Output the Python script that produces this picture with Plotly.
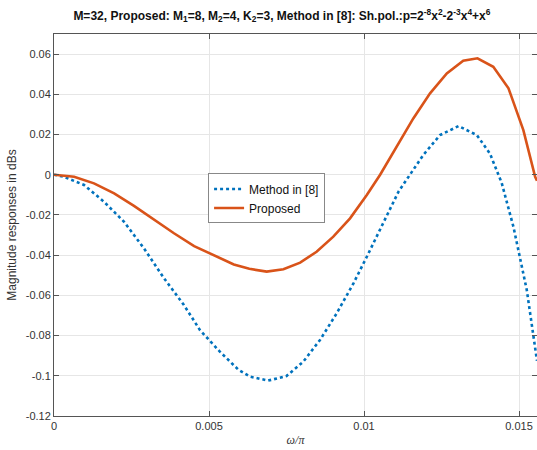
import plotly.graph_objects as go

# Data
x_prop = [0, 0.00065, 0.00129, 0.00194, 0.00258, 0.00323, 0.00387, 0.00452, 0.00516, 0.0058,
          0.0063, 0.00686, 0.0074, 0.00794, 0.00847, 0.00901, 0.00955, 0.01009, 0.01052,
          0.01105, 0.01159, 0.01213, 0.01267, 0.0132, 0.01366, 0.01417, 0.01466, 0.01514,
          0.01552, 0.01558]
y_prop = [0, -0.001, -0.0043, -0.0093, -0.0155, -0.0225, -0.0291, -0.0355, -0.0401, -0.0446,
          -0.0468, -0.0482, -0.047, -0.0437, -0.0383, -0.0308, -0.0217, -0.0101, 0.0,
          0.014, 0.028, 0.0405, 0.0504, 0.0567, 0.0579, 0.0537, 0.043, 0.0222,
          -0.001, -0.003]

x_m8 = [0, 0.00032, 0.00097, 0.00161, 0.00226, 0.0029, 0.00355, 0.00419, 0.00471, 0.00535,
        0.00595, 0.00632, 0.00691, 0.0075, 0.00804, 0.00858, 0.00912, 0.00966, 0.01009,
        0.01062, 0.01111, 0.01191, 0.01245, 0.01305, 0.01364, 0.01406, 0.01444, 0.01482,
        0.01525, 0.01558]
y_m8 = [0, -0.001, -0.0051, -0.0134, -0.0234, -0.0366, -0.0515, -0.0648, -0.0773, -0.088,
        -0.097, -0.1004, -0.1024, -0.1001, -0.093, -0.0822, -0.0689, -0.054, -0.0408,
        -0.0242, -0.0085, 0.0098, 0.0197, 0.0242, 0.0197, 0.0106, -0.004, -0.0259,
        -0.0573, -0.0925]

x_ticks = [0, 0.005, 0.01, 0.015]
x_ticktext = ["0", "0.005", "0.01", "0.015"]
y_ticks = [-0.12, -0.1, -0.08, -0.06, -0.04, -0.02, 0, 0.02, 0.04, 0.06]
y_ticktext = ["-0.12", "-0.1", "-0.08", "-0.06", "-0.04", "-0.02", "0", "0.02", "0.04", "0.06"]

title = ("<b>M=32, Proposed: M<sub>1</sub>=8, M<sub>2</sub>=4, K<sub>2</sub>=3, Method in [8]: "
         "Sh.pol.:p=2<sup>-8</sup>x<sup>2</sup>-2<sup>-3</sup>x<sup>4</sup>+x<sup>6</sup></b>")

fig = go.Figure()
fig.add_trace(go.Scatter(x=x_m8, y=y_m8, mode="lines", name="Method in [8]",
                         line=dict(color="#0072BD", width=2.6, dash="dot")))
fig.add_trace(go.Scatter(x=x_prop, y=y_prop, mode="lines", name="Proposed",
                         line=dict(color="#D95319", width=2.6)))

axis_common = dict(showline=True, linecolor="#555", linewidth=1, mirror="ticks",
                   ticks="inside", ticklen=5, tickcolor="#555",
                   showgrid=True, gridcolor="#e6e6e6", gridwidth=1, zeroline=False,
                   tickfont=dict(family="Liberation Sans, Arial", size=11, color="#333"))

fig.update_layout(
    width=537, height=450,
    margin=dict(l=54, r=0, t=34, b=34),
    paper_bgcolor="white", plot_bgcolor="white",
    title=dict(text=title, x=0.525, xanchor="center", y=0.975, yanchor="top",
               font=dict(family="Liberation Sans, Arial", size=12, color="#111")),
    font=dict(family="Liberation Sans, Arial", size=11, color="#333"),
    xaxis=dict(range=[0, 0.01558], tickvals=x_ticks, ticktext=x_ticktext,
               title=dict(text="<i>ω/π</i>", standoff=4,
                          font=dict(family="Liberation Serif, Times New Roman", size=12, color="#333")),
               **axis_common),
    yaxis=dict(range=[-0.12, 0.07], tickvals=y_ticks, ticktext=y_ticktext,
               title=dict(text="Magnitude responses in dBs", standoff=6,
                          font=dict(family="Liberation Sans, Arial", size=12, color="#333")),
               **axis_common),
    legend=dict(x=0.319, y=0.635, xanchor="left", yanchor="top",
                bgcolor="white", bordercolor="#888", borderwidth=1,
                font=dict(family="Liberation Sans, Arial", size=12, color="#111"),
                tracegroupgap=0, itemwidth=30),
    showlegend=True,
)

fig.write_html("out.html", config={"displayModeBar": False},
               post_script="document.body.style.margin='0';document.body.style.overflow='hidden';")
